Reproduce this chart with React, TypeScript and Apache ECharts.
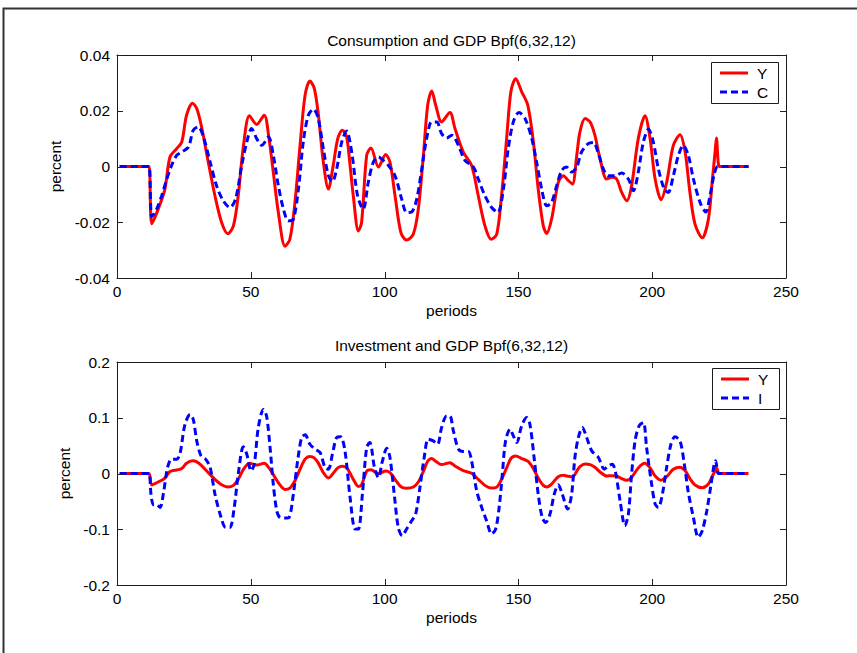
import React, { useEffect, useRef } from "react";
import * as echarts from "echarts";

// Band-pass filtered series, Bpf(6,32,12): period index and percent deviation
const Y_T = [1, 11, 12, 13, 15.4, 17.9, 19.8, 22.3, 24.2, 26, 28.2, 29.8, 31.6, 34.1, 36.6, 39.1, 41.4, 43.5, 45.3, 47.2, 49.5, 52.2, 55, 56.8, 58.4, 60.3, 62.8, 64.6, 66.5, 68.4, 70.3, 72.1, 73.7, 75.2, 77.1, 79, 80.8, 82.5, 84.2, 85.8, 87.1, 88.3, 90.2, 91.4, 93.3, 94.9, 97.7, 100.4, 102, 103.9, 106.1, 108.2, 110.7, 112.6, 114.5, 116.1, 117.6, 119.1, 121.3, 124.4, 126.3, 129.4, 132.5, 135, 137.5, 139.8, 141.9, 143.7, 145.6, 147.2, 149, 151.2, 153.5, 155.6, 157.4, 159.3, 160.6, 162.4, 164.9, 166.8, 168.7, 170.2, 171.8, 173, 174.9, 176.8, 178.6, 180.5, 183, 184.9, 186.7, 188.6, 190.5, 192.3, 194.8, 197.3, 199.2, 201.1, 203.3, 205.4, 207.9, 210.4, 212.3, 214.1, 216, 218.7, 221, 222.5, 223.5, 224, 225, 226, 236];
const Y_V = [0, 0, 0, -0.0205, -0.0153, -0.0081, 0.0034, 0.0064, 0.0088, 0.0184, 0.0227, 0.0208, 0.0142, 0.0016, -0.0105, -0.0201, -0.0241, -0.0213, -0.0105, 0.007, 0.0182, 0.0151, 0.0184, 0.01, -0.002, -0.0165, -0.0286, -0.0261, -0.0129, 0.0076, 0.0257, 0.0307, 0.0281, 0.019, 0.0016, -0.0081, 0.0004, 0.01, 0.013, 0.0106, 0.0004, -0.0105, -0.0231, -0.0201, 0.004, 0.0066, -0.0002, 0.0043, 0.0016, -0.0105, -0.0237, -0.0264, -0.0243, -0.0153, 0.004, 0.022, 0.0271, 0.022, 0.016, 0.0194, 0.0136, 0.0052, 0.0004, -0.0105, -0.0213, -0.0261, -0.0243, -0.0105, 0.01, 0.0269, 0.0315, 0.0269, 0.022, 0.0088, -0.0081, -0.0213, -0.024, -0.0189, -0.0057, -0.0033, -0.0051, -0.0063, 0.004, 0.0124, 0.0172, 0.016, 0.0112, 0.0028, -0.0045, -0.0039, -0.0045, -0.0093, -0.0123, -0.0069, 0.01, 0.0182, 0.01, -0.0045, -0.0119, -0.0057, 0.0076, 0.0114, 0.0052, -0.0093, -0.0207, -0.0256, -0.0189, -0.0045, 0.0052, 0.0102, 0, 0, 0];

const C_T = [1, 11, 12, 13, 14.8, 16.7, 18.6, 20.4, 22.3, 24.2, 26.7, 28.5, 30.4, 32.3, 34.8, 37.2, 39.7, 42.2, 44.3, 46.6, 48.5, 50.3, 52.2, 54.1, 56.6, 58.4, 60.3, 62.2, 64, 65.9, 67.8, 69.6, 71.5, 73.4, 75.2, 77.1, 79, 80.5, 82.1, 84, 85.8, 87.7, 89.9, 92, 93.9, 95.8, 97.7, 99.5, 101.4, 103.9, 106.4, 108.2, 110.1, 112, 113.9, 115.7, 117.6, 119.5, 121.3, 123.2, 125.1, 127.6, 130, 133.2, 135, 137.5, 140, 142.3, 144.4, 146.2, 148.1, 150.2, 152.5, 155, 156.8, 158.7, 160.6, 162.4, 164.3, 166.2, 168, 169.9, 171.8, 173.6, 176.1, 178, 179.9, 181.7, 183.6, 186.1, 188.6, 191.1, 193, 194.8, 196.7, 198.6, 200.4, 202.3, 204.5, 206, 207.9, 209.8, 211.6, 213.5, 215.4, 217.9, 220, 221.6, 223.2, 224.5, 226, 236];
const C_V = [0, 0, 0, -0.018, -0.0153, -0.0105, -0.0045, 0.0004, 0.004, 0.0052, 0.007, 0.013, 0.0142, 0.0106, 0.0016, -0.0069, -0.0123, -0.0147, -0.0117, 0.0004, 0.0088, 0.0136, 0.01, 0.0076, 0.0106, 0.004, -0.0069, -0.0153, -0.0195, -0.0189, -0.0081, 0.0088, 0.0184, 0.0206, 0.0172, 0.0064, -0.0033, -0.0054, -0.0008, 0.0088, 0.0127, 0.0052, -0.0105, -0.0153, -0.0057, 0.0016, 0.0034, 0.0022, 0.0004, -0.0033, -0.0117, -0.0165, -0.0163, -0.0117, -0.0008, 0.01, 0.016, 0.016, 0.0118, 0.0102, 0.0112, 0.0076, 0.0022, -0.0002, -0.0045, -0.0105, -0.0147, -0.0165, -0.0081, 0.0064, 0.016, 0.0194, 0.0172, 0.01, 0.0016, -0.0081, -0.0141, -0.0129, -0.0069, -0.0014, -0.0002, -0.002, -0.0002, 0.0052, 0.0082, 0.0086, 0.0046, -0.0008, -0.0033, -0.0033, -0.0023, -0.0045, -0.0087, -0.002, 0.0088, 0.0134, 0.0088, -0.0008, -0.0081, -0.0093, -0.0033, 0.004, 0.0076, 0.004, -0.0045, -0.0129, -0.0163, -0.0105, -0.0027, 0, 0, 0];

const I_T = [1, 11, 12, 12.7, 13.6, 14.8, 16.1, 17.3, 18.9, 20.4, 22.3, 23.5, 25.4, 27.3, 28.5, 29.8, 31.4, 33.1, 34.8, 36.6, 38.9, 40.6, 42.2, 43.8, 45.3, 47.2, 48.5, 50.1, 51.3, 52.8, 54.7, 55.9, 57.2, 58.4, 59.7, 60.9, 62.8, 64.3, 65.9, 67.5, 69, 70.3, 72.1, 74, 75.9, 77.7, 79, 80.5, 82.1, 83.6, 85.2, 87.1, 89, 90.2, 91.7, 93.3, 94.5, 96.2, 97.7, 99.2, 100.8, 102, 103.6, 105.1, 106.6, 108.2, 110.1, 111.6, 113.2, 114.8, 116.3, 118.2, 119.8, 121.3, 123.2, 124.4, 125.7, 127.6, 129.4, 131.3, 132.5, 134.4, 136.3, 138.1, 140, 141.5, 142.8, 144, 145.2, 146.9, 148.1, 149.4, 151.2, 153.1, 154.3, 156, 157.4, 158.9, 160.2, 161.8, 163.4, 164.9, 166.4, 168.4, 169.9, 171.1, 172.4, 173.9, 175.5, 177.4, 179.9, 182.1, 183.6, 185.1, 186.3, 188, 189.8, 191.1, 192.3, 193.6, 195.1, 196.7, 197.9, 199.6, 201.1, 202.3, 203.8, 205.4, 207, 208.5, 210.4, 212, 213.5, 215.4, 217.2, 218.7, 220.4, 222, 223.2, 223.7, 224.7, 226, 236];
const I_V = [0, 0, 0, -0.037, -0.056, -0.056, -0.061, -0.037, 0.011, 0.0257, 0.0257, 0.0346, 0.088, 0.106, 0.097, 0.0585, 0.0316, 0.0257, 0.011, -0.037, -0.0788, -0.0967, -0.0967, -0.061, -0.0012, 0.0478, 0.0346, 0.0048, 0.0167, 0.0824, 0.115, 0.103, 0.0466, -0.0191, -0.0669, -0.0788, -0.08, -0.0788, -0.037, 0.0227, 0.0645, 0.0693, 0.0525, 0.0436, 0.0376, 0.011, 0.0078, 0.0346, 0.0645, 0.0657, 0.04, -0.043, -0.0997, -0.0997, -0.037, 0.0466, 0.0555, 0.011, -0.0072, 0.0227, 0.0454, 0.0287, -0.037, -0.0967, -0.1116, -0.0997, -0.0848, -0.0728, -0.0251, 0.0287, 0.0615, 0.0585, 0.0525, 0.0824, 0.103, 0.103, 0.0764, 0.0436, 0.0394, 0.0394, 0.0227, -0.031, -0.061, -0.0848, -0.1086, -0.0997, -0.061, -0.0012, 0.0585, 0.0794, 0.0675, 0.0555, 0.0854, 0.1003, 0.0884, 0.0227, -0.037, -0.0788, -0.0878, -0.0728, -0.037, -0.0203, -0.037, -0.0639, -0.037, 0.028, 0.0645, 0.0824, 0.0645, 0.0406, 0.0287, 0.0078, 0.0137, 0.0167, 0.0018, -0.049, -0.0937, -0.0728, -0.0012, 0.0585, 0.0854, 0.0913, 0.0466, -0.0131, -0.0549, -0.061, -0.037, 0.011, 0.0525, 0.0657, 0.0585, 0.0167, -0.034, -0.0788, -0.1146, -0.1027, -0.0669, -0.0191, 0.0179, 0.0227, 0, 0, 0];

const X_TICKS = { min: 0, max: 250, interval: 50 };
const TOP_Y = { min: -0.04, max: 0.04, interval: 0.02 };
const BOTTOM_Y = { min: -0.2, max: 0.2, interval: 0.1 };

const TITLE_TOP = "Consumption and GDP Bpf(6,32,12)";
const TITLE_BOTTOM = "Investment and GDP Bpf(6,32,12)";
const X_NAME = "periods";
const Y_NAME = "percent";

const FONT = "Liberation Sans, Arial, Helvetica, sans-serif";
const FS = 15.5;
const RED = "#ff0000";
const BLUE = "#0000ff";
const AXIS_COLOR = "#1a1a1a";
const TICK_COLOR = "#222";
const TICK_LEN = 6;

type Range = { min: number; max: number; interval: number };
type Box = { left: number; top: number; width: number; height: number };

const GRIDS: Box[] = [
  { left: 117, top: 55, width: 669, height: 223 },
  { left: 117, top: 362, width: 669, height: 223 },
];

const pairs = (t: number[], v: number[]) => t.map((x, i) => [x, v[i]]);

const fmt = (v: number) => String(Number(v.toFixed(3)));

const tickValues = (r: Range) => {
  const out: number[] = [];
  const n = Math.round((r.max - r.min) / r.interval);
  for (let k = 0; k <= n; k++) out.push(r.min + k * r.interval);
  return out;
};

const axisLine = { show: true, onZero: false, lineStyle: { color: AXIS_COLOR, width: 1 } };

function xAxes(gridIndex: number) {
  const common = {
    type: "value",
    gridIndex,
    ...X_TICKS,
    splitLine: { show: false },
    axisLine,
    axisTick: { show: false },
  };
  return [
    {
      ...common,
      position: "bottom",
      name: X_NAME,
      nameLocation: "middle",
      nameGap: 24,
      nameTextStyle: { color: "#000", fontFamily: FONT, fontSize: FS },
      axisLabel: { color: "#000", fontFamily: FONT, fontSize: FS, margin: 5, formatter: fmt },
    },
    { ...common, position: "top", axisLabel: { show: false } },
  ];
}

function yAxes(gridIndex: number, range: Range) {
  const common = {
    type: "value",
    gridIndex,
    ...range,
    splitLine: { show: false },
    axisLine,
    axisTick: { show: false },
  };
  return [
    {
      ...common,
      position: "left",
      name: Y_NAME,
      nameLocation: "middle",
      nameGap: 43,
      nameTextStyle: { color: "#000", fontFamily: FONT, fontSize: FS },
      axisLabel: { color: "#000", fontFamily: FONT, fontSize: FS, margin: 7, formatter: fmt },
    },
    { ...common, position: "right", axisLabel: { show: false } },
  ];
}

function lineSeries(name: string, data: number[][], axisIndex: number, color: string, dashed: boolean) {
  return {
    type: "line",
    name,
    data,
    xAxisIndex: axisIndex,
    yAxisIndex: axisIndex,
    showSymbol: false,
    symbol: "none",
    smooth: 0.3,
    lineStyle: {
      color,
      width: 3,
      type: dashed ? [7, 4] : "solid",
      cap: "butt",
    },
    emphasis: { disabled: true },
  };
}

function legendBox(x: number, y: number, labels: string[]) {
  const w = 67;
  const h = 41;
  const items: any[] = [
    {
      type: "rect",
      shape: { x: x + 0.5, y: y + 0.5, width: w, height: h },
      style: { fill: "#fff", stroke: AXIS_COLOR, lineWidth: 1 },
      z: 100,
    },
  ];
  labels.forEach((label, i) => {
    const cy = y + 11 + i * 19;
    items.push({
      type: "line",
      shape: { x1: x + 9, y1: cy, x2: x + 37, y2: cy },
      style: {
        stroke: i === 0 ? RED : BLUE,
        lineWidth: 3,
        lineDash: i === 0 ? null : [7, 4],
      },
      z: 101,
    });
    items.push({
      type: "text",
      x: x + 46,
      y: cy,
      style: {
        text: label,
        fill: "#000",
        font: `${FS}px ${FONT}`,
        textVerticalAlign: "middle",
      },
      z: 101,
    });
  });
  return items;
}

// Inward tick marks on all four sides of a plot box, at the axes' tick values
function boxTicks(g: Box, yRange: Range) {
  const items: any[] = [];
  const style = { stroke: TICK_COLOR, lineWidth: 1 };
  const bottom = g.top + g.height;
  const right = g.left + g.width;
  tickValues(X_TICKS).forEach((v) => {
    const x = Math.round(g.left + ((v - X_TICKS.min) / (X_TICKS.max - X_TICKS.min)) * g.width) + 0.5;
    items.push({ type: "line", shape: { x1: x, y1: bottom, x2: x, y2: bottom - TICK_LEN }, style, z: 150, silent: true });
    items.push({ type: "line", shape: { x1: x, y1: g.top, x2: x, y2: g.top + TICK_LEN }, style, z: 150, silent: true });
  });
  tickValues(yRange).forEach((v) => {
    const y = Math.round(bottom - ((v - yRange.min) / (yRange.max - yRange.min)) * g.height) + 0.5;
    items.push({ type: "line", shape: { x1: g.left, y1: y, x2: g.left + TICK_LEN, y2: y }, style, z: 150, silent: true });
    items.push({ type: "line", shape: { x1: right, y1: y, x2: right - TICK_LEN, y2: y }, style, z: 150, silent: true });
  });
  return items;
}

export default function App() {
  const ref = useRef<HTMLDivElement>(null);

  useEffect(() => {
    if (!ref.current) return;
    const chart = echarts.init(ref.current, null, { renderer: "svg" });
    const yData = pairs(Y_T, Y_V);

    chart.setOption({
      animation: false,
      backgroundColor: "#fff",
      grid: GRIDS,
      xAxis: [...xAxes(0), ...xAxes(1)],
      yAxis: [...yAxes(0, TOP_Y), ...yAxes(1, BOTTOM_Y)],
      series: [
        lineSeries("Y", yData, 0, RED, false),
        lineSeries("C", pairs(C_T, C_V), 0, BLUE, true),
        lineSeries("Y", yData, 2, RED, false),
        lineSeries("I", pairs(I_T, I_V), 2, BLUE, true),
      ],
      graphic: [
        {
          type: "rect",
          shape: { x: 3.5, y: 8.5, width: 900, height: 700 },
          style: { fill: "none", stroke: "#333", lineWidth: 2 },
          silent: true,
        },
        {
          type: "text",
          x: 451.5,
          y: 40,
          style: {
            text: TITLE_TOP,
            fill: "#000",
            font: `${FS}px ${FONT}`,
            textAlign: "center",
            textVerticalAlign: "middle",
          },
        },
        {
          type: "text",
          x: 451.5,
          y: 345,
          style: {
            text: TITLE_BOTTOM,
            fill: "#000",
            font: `${FS}px ${FONT}`,
            textAlign: "center",
            textVerticalAlign: "middle",
          },
        },
        ...legendBox(711, 62, ["Y", "C"]),
        ...legendBox(712, 368, ["Y", "I"]),
        ...boxTicks(GRIDS[0], TOP_Y),
        ...boxTicks(GRIDS[1], BOTTOM_Y),
      ],
    });

    return () => chart.dispose();
  }, []);

  return (
    <div
      ref={ref}
      style={{ position: "fixed", left: 0, top: 0, width: 857, height: 653 }}
    />
  );
}
